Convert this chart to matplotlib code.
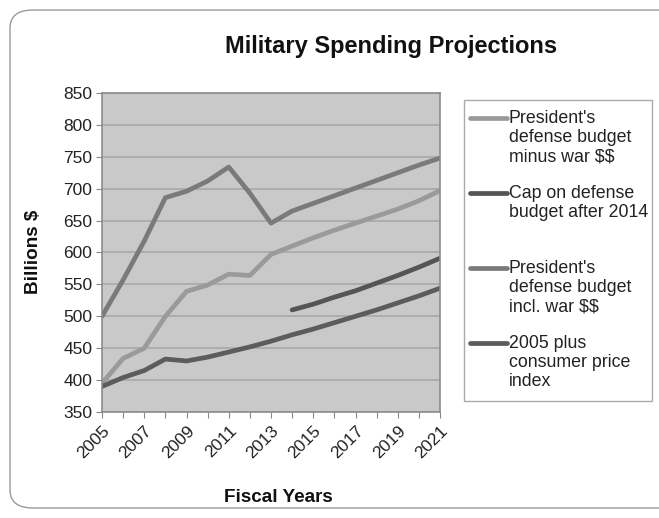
import matplotlib
matplotlib.use("Agg")
import matplotlib.pyplot as plt
from matplotlib.patches import FancyBboxPatch, Rectangle
from matplotlib.lines import Line2D

plt.rcParams['font.family'] = ['Liberation Sans', 'DejaVu Sans']
plt.rcParams['text.parse_math'] = False

years = list(range(2005, 2022))
minus_war = [395, 434, 450, 500, 539, 549, 566, 564, 597, 610, 623, 635, 646, 657, 668, 681, 697]
incl_war = [500, 557, 618, 686, 696, 712, 734, 693, 646, 665, 677, 689, 701, 713, 725, 737, 748]
cap_years = list(range(2014, 2022))
cap = [510, 519, 530, 540, 552, 564, 577, 591]
cpi = [390, 404, 415, 433, 430, 436, 444, 452, 461, 471, 480, 490, 500, 510, 521, 532, 544]

series_labels = ["President's\ndefense budget\nminus war $$",
                 "Cap on defense\nbudget after 2014",
                 "President's\ndefense budget\nincl. war $$",
                 "2005 plus\nconsumer price\nindex"]
colors = ['#9a9a9a', '#555555', '#7a7a7a', '#5c5c5c']
tick_years = list(range(2005, 2022, 2))
y_ticks = list(range(350, 851, 50))

W, H = 659, 518
fig = plt.figure(figsize=(W / 100, H / 100), dpi=100)

# outer rounded frame
frame = FancyBboxPatch((10 / W, 10 / H), 700 / W, 498 / H,
                       boxstyle="round,pad=0,rounding_size=0.035",
                       transform=fig.transFigure, fill=False,
                       edgecolor='#9a9a9a', linewidth=1.0, clip_on=False)
fig.patches.append(frame)

ax = fig.add_axes([102 / W, (H - 412) / H, 338 / W, 319 / H])
ax.set_facecolor('#c9c9c9')

lw = 3.4
ax.plot(years, minus_war, color=colors[0], lw=lw, solid_joinstyle='round', solid_capstyle='round')
ax.plot(cap_years, cap, color=colors[1], lw=lw, solid_joinstyle='round', solid_capstyle='round')
ax.plot(years, incl_war, color=colors[2], lw=lw, solid_joinstyle='round', solid_capstyle='round')
ax.plot(years, cpi, color=colors[3], lw=lw, solid_joinstyle='round', solid_capstyle='round')

ax.set_xlim(2005, 2021)
ax.set_ylim(350, 850)
ax.set_yticks(y_ticks)
ax.set_xticks(years, minor=False)
ax.set_xticklabels([str(y) if y in tick_years else '' for y in years],
                   rotation=45, ha='right', va='top', rotation_mode='anchor')
ax.tick_params(axis='x', length=4, color='#888888', labelsize=12.5, pad=4,
               labelcolor='#222222')
ax.tick_params(axis='y', length=4, color='#888888', labelsize=12.5, pad=3,
               labelcolor='#222222')
ax.yaxis.grid(True, color='#a8a8a8', linewidth=1.2)
ax.set_axisbelow(True)
for s in ax.spines.values():
    s.set_color('#8c8c8c')
    s.set_linewidth(1.2)

fig.text(391 / W, 1 - 47 / H, 'Military Spending Projections', ha='center', va='center',
         fontsize=17, fontweight='bold', color='#111111')
fig.text(33 / W, 1 - 252 / H, 'Billions $', ha='center', va='center', rotation=90,
         fontsize=13.6, fontweight='bold', color='#111111')
fig.text(278 / W, 1 - 497 / H, 'Fiscal Years', ha='center', va='center',
         fontsize=13.6, fontweight='bold', color='#111111')

# legend
leg_box = Rectangle((464 / W, 1 - 401 / H), (652 - 464) / W, (401 - 100) / H,
                    transform=fig.transFigure, facecolor='white', edgecolor='#aaaaaa',
                    linewidth=1.0)
fig.patches.append(leg_box)
entry_y = [118, 193, 268, 343]
for lab, col, yy in zip(series_labels, colors, entry_y):
    fig.lines.append(Line2D([470 / W, 507 / W], [1 - yy / H, 1 - yy / H],
                            transform=fig.transFigure, color=col, lw=3.4,
                            solid_capstyle='round'))
    fig.text(509 / W, 1 - (yy - 8) / H, lab, ha='left', va='top', fontsize=12.8,
             linespacing=1.17, color='#222222')

fig.savefig('out.png', dpi=100)
